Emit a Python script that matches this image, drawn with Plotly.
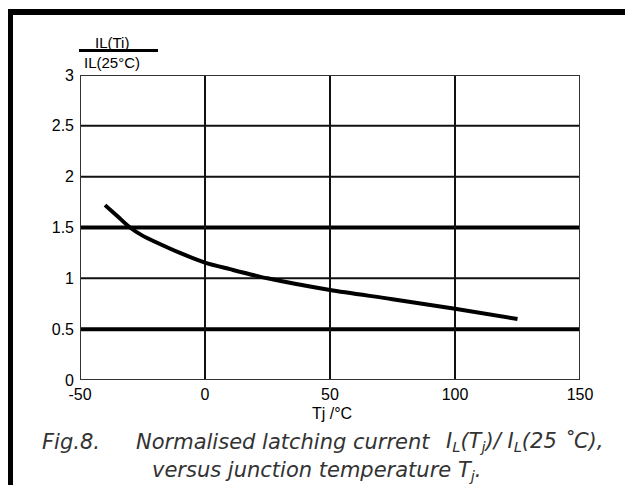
import plotly.graph_objects as go

# Data
tj = [-40, -35, -30, -25, -20, -10, 0, 10, 25, 50, 75, 100, 125]
il_norm = [1.72, 1.61, 1.50, 1.42, 1.36, 1.25, 1.155, 1.09, 1.00, 0.885, 0.795, 0.70, 0.60]

x_ticks = [-50, 0, 50, 100, 150]
y_ticks = [0, 0.5, 1, 1.5, 2, 2.5, 3]
y_tick_text = ["0", "0.5", "1", "1.5", "2", "2.5", "3"]
thick_rows = [0.5, 1.5]
thin_rows = [1, 2, 2.5]

# page body has an 8px margin; figure is sized so it ends at the window edge
W, H = 625, 477
L, R, T, B = 72, 53, 67, 105
pw, ph = W - L - R, H - T - B


def px(xr):  # reference-window x pixel -> paper
    return (xr - 80) / pw


def py(yr):  # reference-window y pixel -> paper
    return (380 - yr) / ph


FONT = "Liberation Sans, Arial, sans-serif"
CAP_FONT = "DejaVu Sans, sans-serif"

fig = go.Figure()
fig.add_trace(go.Scatter(x=tj, y=il_norm, mode="lines",
                         line=dict(color="black", width=4, shape="spline", smoothing=0.8),
                         showlegend=False, hoverinfo="skip"))

shapes = []
for yv in thin_rows:
    shapes.append(dict(type="line", xref="x", yref="y", x0=-50, x1=150, y0=yv, y1=yv,
                       line=dict(color="#111", width=2), layer="below"))
for yv in thick_rows:
    shapes.append(dict(type="line", xref="x", yref="y", x0=-50, x1=150, y0=yv, y1=yv,
                       line=dict(color="black", width=4), layer="below"))
for xv in x_ticks[1:-1]:
    shapes.append(dict(type="line", xref="x", yref="y", x0=xv, x1=xv, y0=0, y1=3,
                       line=dict(color="#111", width=2), layer="below"))
# plot frame
shapes.append(dict(type="rect", xref="x", yref="y", x0=-50, x1=150, y0=0, y1=3,
                   line=dict(color="#333", width=2)))
# outer thick frame (top and left)
shapes.append(dict(type="line", xref="paper", yref="paper", x0=px(10), x1=px(660),
                   y0=py(12), y1=py(12), line=dict(color="black", width=6)))
shapes.append(dict(type="line", xref="paper", yref="paper", x0=px(10), x1=px(10),
                   y0=py(9), y1=py(500), line=dict(color="black", width=6)))
# fraction bar of y-axis title
shapes.append(dict(type="line", xref="paper", yref="paper", x0=px(79), x1=px(158),
                   y0=py(50.5), y1=py(50.5), line=dict(color="black", width=3)))

cap = dict(size=21, color="#333", family=CAP_FONT)
annotations = [
    dict(text="IL(Ti)", xref="paper", yref="paper", x=px(112), y=py(42),
         showarrow=False, font=dict(size=15, color="black", family=FONT),
         xanchor="center", yanchor="middle"),
    dict(text="IL(25°C)", xref="paper", yref="paper", x=px(112), y=py(62),
         showarrow=False, font=dict(size=15, color="black", family=FONT),
         xanchor="center", yanchor="middle"),
    dict(text="Tj /°C", xref="paper", yref="paper", x=px(332), y=py(413),
         showarrow=False, font=dict(size=16, color="black", family=FONT),
         xanchor="center", yanchor="middle"),
    dict(text="<i>Fig.8.</i>", xref="paper", yref="paper", x=px(40), y=py(442),
         showarrow=False, font=cap, xanchor="left", yanchor="middle"),
    dict(text="<i>Normalised latching current</i>",
         xref="paper", yref="paper", x=px(134), y=py(442),
         showarrow=False, font=cap, xanchor="left", yanchor="middle"),
    dict(text="<i>I<sub>L</sub>(T<sub>j</sub>)/ I<sub>L</sub>(25 ˚C),</i>",
         xref="paper", yref="paper", x=px(605), y=py(442),
         showarrow=False, font=cap, xanchor="right", yanchor="middle"),
    dict(text="<i>versus junction temperature T<sub>j</sub>.</i>",
         xref="paper", yref="paper", x=px(150), y=py(471),
         showarrow=False, font=cap, xanchor="left", yanchor="middle"),
]

fig.update_layout(
    width=W, height=H,
    margin=dict(l=L, r=R, t=T, b=B),
    paper_bgcolor="white", plot_bgcolor="white",
    shapes=shapes, annotations=annotations,
    xaxis=dict(range=[-50, 150], tickvals=x_ticks, ticktext=[str(v) for v in x_ticks],
               showgrid=False, zeroline=False, showline=False, ticks="",
               tickfont=dict(size=16, color="black", family=FONT), ticklabelstandoff=3),
    yaxis=dict(range=[0, 3], tickvals=y_ticks, ticktext=y_tick_text,
               showgrid=False, zeroline=False, showline=False, ticks="",
               tickfont=dict(size=16, color="black", family=FONT), ticklabelstandoff=5),
    font=dict(family=FONT),
)

fig.write_html("out.html")
